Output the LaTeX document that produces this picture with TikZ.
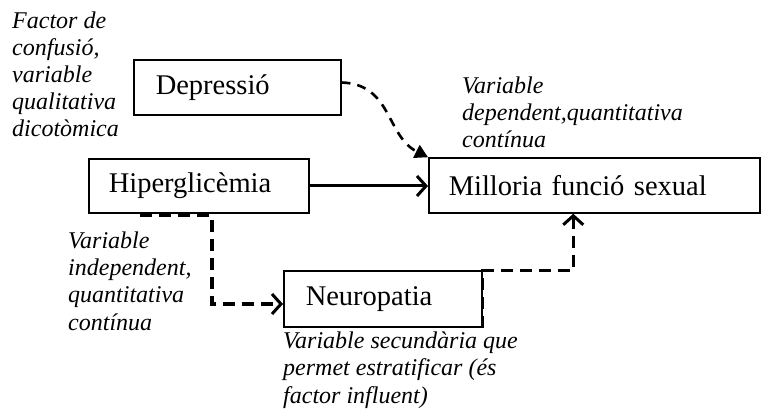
\documentclass[tikz,border=0pt]{standalone}
\usepackage{fontspec}
\setmainfont{Liberation Serif}
\usetikzlibrary{arrows.meta,calc}
\begin{document}
\begin{tikzpicture}[x=1pt,y=-1pt,
  varbox/.style={draw,line width=1.5pt,anchor=west,align=left,minimum height=55pt,
    font=\fontsize{28.5}{30}\selectfont,inner ysep=0pt},
  note/.style={anchor=base west,align=left,inner sep=0pt,
    font=\fontsize{24}{27.2}\selectfont\itshape},
  conn/.style={line width=3.5pt,dash pattern=on 12pt off 7pt},
  openhead/.style={-{Straight Barb[length=9pt,width=20pt,line width=3pt]}},
]
\useasboundingbox (0,0) rectangle (761,409);

% boxes
\node[varbox,text width=163pt,inner xsep=22pt] (dep) at (133,87.5) {Depressió};
\node[varbox,text width=180pt,inner xsep=20pt,minimum height=54pt] (hip) at (88,186) {Hiperglicèmia};
\node[varbox,text width=291pt,inner xsep=20pt] (mil) at (428,185.5) {Milloria funció sexual};
\node[varbox,text width=154pt,inner xsep=22pt,minimum height=56pt] (neu) at (283,299) {Neuropatia};

% notes (anchored at the baseline of their last line)
\node[note] (n1) at (12,137) {Factor de\\confusió,\\variable\\qualitativa\\dicotòmica};
\node[note] (n2) at (462,148) {Variable\\dependent,quantitativa\\contínua};
\node[note] (n3) at (68,330) {Variable\\independent,\\quantitativa\\contínua};
\node[note] (n4) at (283,403) {Variable secundària que\\permet estratificar (és\\factor influent)};

% connectors
\draw[line width=3pt,openhead] (hip.east) -- (mil.west |- hip.east);
\draw[line width=2.6pt,dash pattern=on 9pt off 7pt,-{Triangle[length=13pt,width=14pt]}]
  ([yshift=5pt]dep.east) .. controls (392,84) and (386,136) .. (mil.north west);
\coordinate (h1) at ($(hip.south west)+(52,2)$);
\coordinate (h2) at ($(hip.south west)+(124,2)$);
\draw[conn,openhead] (h1) -- (h2) |- ([yshift=-5pt]neu.west);
\draw[conn,openhead] (neu.south east) -- (neu.north east) -| ([xshift=-21pt]mil.south);
\end{tikzpicture}
\end{document}
